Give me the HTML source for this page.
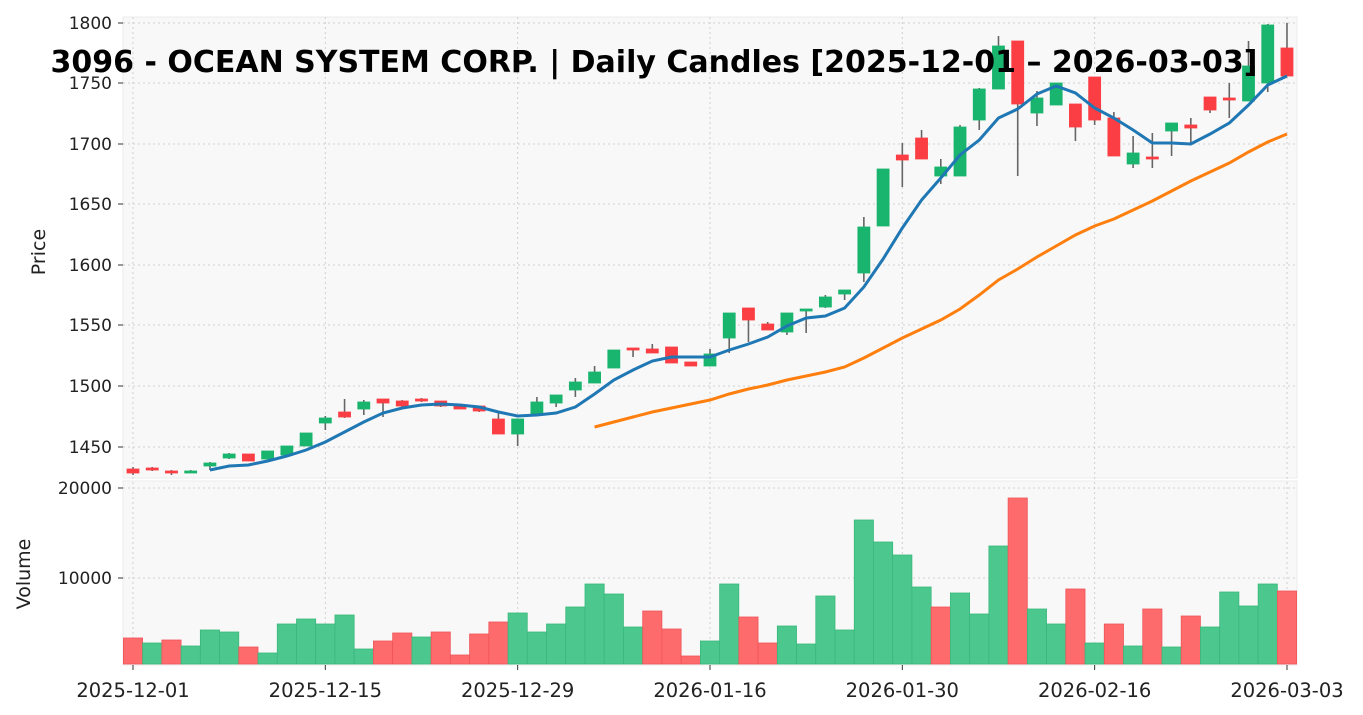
<!DOCTYPE html><html><head><meta charset="utf-8"><style>body{margin:0;background:#fff}svg{display:block;font-family:"DejaVu Sans","Liberation Sans",sans-serif}</style></head><body>
<svg id="s" width="1363" height="715" xmlns="http://www.w3.org/2000/svg"></svg>
<script>
const s=document.getElementById('s');let h='';
h+='<rect x="123" y="17" width="1174" height="461" fill="#f8f8f8" stroke="#ebebeb"/>';
h+='<rect x="123" y="481" width="1174" height="184" fill="#f8f8f8" stroke="#ebebeb"/>';
const X=i=>133+19.233*i;
[23,83,144,204,265,325,386,447].forEach((y,k)=>{h+=`<line x1="123" x2="1297" y1="${y}" y2="${y}" stroke="#d0d0d0" stroke-dasharray="2,3"/><line x1="118" x2="123" y1="${y}" y2="${y}" stroke="#333"/><text x="112" y="${y+6}" font-size="17" text-anchor="end" fill="#222">${1800-50*k}</text>`});
[[488,'20000'],[578,'10000']].forEach(([y,t])=>{h+=`<line x1="123" x2="1297" y1="${y}" y2="${y}" stroke="#d0d0d0" stroke-dasharray="2,3"/><line x1="118" x2="123" y1="${y}" y2="${y}" stroke="#333"/><text x="112" y="${y+6}" font-size="17" text-anchor="end" fill="#222">${t}</text>`});
const dl=[[0,'2025-12-01'],[10,'2025-12-15'],[20,'2025-12-29'],[30,'2026-01-16'],[40,'2026-01-30'],[50,'2026-02-16'],[60,'2026-03-03']];
dl.forEach(([i,t])=>{const x=X(i);h+=`<line x1="${x}" x2="${x}" y1="17" y2="665" stroke="#d0d0d0" stroke-dasharray="2,3"/><line x1="${x}" x2="${x}" y1="665" y2="670" stroke="#333"/><text x="${x}" y="697" font-size="19.5" text-anchor="middle" fill="#222">${t}</text>`});
const C=[['r',469,473,467,475],['r',468,470,467,471],['r',471,473,470,475],['g',471,472,470,473],['g',463,466,462,470],['g',454,458,453,459],['r',454,461,454,461],['g',451,459,451,459],['g',446,455,446,455],['g',433,446,433,446],['g',418,423,416,430],['r',412,417,399,418],['g',402,409,400,415],['r',399,403,399,417],['r',401,406,400,407],['r',399,401,398,402],['r',401,406,401,407],['r',405,409,404,409],['r',406,411,406,412],['r',419,434,413,434],['g',419,434,419,446],['g',402,414,397,414],['g',395,403,395,407],['g',382,390,378,397],['g',372,383,366,383],['g',350,368,350,368],['r',348,350,348,357],['r',349,353,344,353],['r',347,363,347,363],['r',362,366,362,366],['g',354,366,349,366],['g',313,338,313,353],['r',308,320,308,342],['r',324,330,322,330],['g',313,332,313,335],['g',309,311,309,333],['g',297,307,295,308],['g',290,294,290,300],['g',227,273,217,282],['g',169,226,169,226],['r',155,160,143,187],['r',138,159,130,159],['g',167,176,159,184],['g',127,176,125,176],['g',89,120,88,130],['g',46,89,36,89],['r',41,104,41,176],['g',98,113,91,126],['g',83,105,83,105],['r',104,127,104,141],['r',77,120,77,125],['r',118,156,112,156],['g',153,164,136,168],['r',157,159,133,168],['g',123,131,123,156],['r',125,128,118,145],['r',97,110,97,113],['r',98,100,83,118],['g',66,101,41,101],['g',25,83,24,92],['r',48,76,23,76]];
C.forEach((c,i)=>{const x=X(i),f=c[0]=='g'?'#19b46e':'#fb3e44';h+=`<line x1="${x}" x2="${x}" y1="${c[3]}" y2="${c[4]}" stroke="#666" stroke-width="1.6"/><rect x="${x-6}" y="${c[1]}" width="12" height="${Math.max(c[2]-c[1],2)}" fill="${f}" stroke="${f}" stroke-width="0.8"/>`});
const B=[470,466,465,461,456,450,442,432,422,413,408,405,404,405,407,412,416,415,413,407,394,380,370,361,357,357,357,350,344,337,326,318,316,308,287,259,228,200,178,155,140,118,109,94,86,93,108,118,130,143,143,144,134,123,105,85,76];
h+=`<polyline fill="none" stroke="#1f77b4" stroke-width="3" points="${B.map((y,k)=>X(k+4)+','+y).join(' ')}"/>`;
const O=[427,422,417,412,408,404,400,394,389,385,380,376,372,367,358,348,338,329,320,309,295,280,269,257,246,235,226,219,210,201,191,181,172,163,152,142,134];
h+=`<polyline fill="none" stroke="#ff7f0e" stroke-width="3" points="${O.map((y,k)=>X(k+24)+','+y).join(' ')}"/>`;
const V='r638 g643 r640 g646 g630 g632 r647 g653 g624 g619 g624 g615 g649 r641 r633 g637 r632 r655 r634 r622 g613 g632 g624 g607 g584 g594 g627 r611 r629 r656 g641 g584 r617 r643 g626 g644 g596 g630 g520 g542 g555 g587 r607 g593 g614 g546 r498 g609 g624 r589 g643 r624 g646 r609 g647 r616 g627 g592 g606 g584 r591'.split(' ');
V.forEach((v,i)=>{const x=X(i),y=+v.slice(1),f=v[0]=='g'?'#4cc88e':'#fe6b6d',st=v[0]=='g'?'#3ab87c':'#ee5558';h+=`<rect x="${x-9.6}" y="${y}" width="19.2" height="${664-y}" fill="${f}" stroke="${st}" stroke-width="0.8"/>`});
h+='<text x="45" y="252" font-size="19" fill="#222" text-anchor="middle" transform="rotate(-90 45 252)">Price</text>';
h+='<text x="30" y="574" font-size="19" fill="#222" text-anchor="middle" transform="rotate(-90 30 574)">Volume</text>';
h+='<text x="654" y="72" font-size="30" font-weight="bold" fill="#000" text-anchor="middle">3096 - OCEAN SYSTEM CORP. | Daily Candles [2025-12-01 – 2026-03-03]</text>';
s.innerHTML=h;
</script></body></html>
